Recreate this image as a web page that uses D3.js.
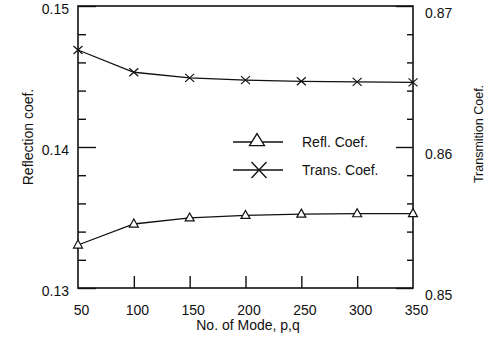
<!DOCTYPE html>
<html>
<head>
<meta charset="utf-8">
<script src="https://cdn.jsdelivr.net/npm/d3@7"></script>
<style>
  html, body { margin: 0; padding: 0; background: #fff; }
  svg { display: block; font-family: "Liberation Sans", Arial, Helvetica, sans-serif; }
</style>
</head>
<body>
<svg id="chart" width="489" height="342"></svg>
<script>
// Number of modes (p,q) used in the expansion
const modes = [50, 100, 150, 200, 250, 300, 350];
// Reflection coefficient (left axis)
const reflCoef = [0.13305, 0.13454, 0.13497, 0.13515, 0.13524, 0.13527, 0.13528];
// Transmission coefficient (right axis)
const transCoef = [0.86688, 0.86530, 0.86490, 0.86474, 0.86466, 0.86462, 0.86458];

const xTicks = [50, 100, 150, 200, 250, 300, 350];
const leftMajor = [0.13, 0.14, 0.15];
const rightMajor = [0.85, 0.86, 0.87];
const leftMinor = d3.range(0, 11).map(i => +(0.13 + i * 0.002).toFixed(3));
const rightMinor = d3.range(0, 11).map(i => +(0.85 + i * 0.002).toFixed(3));

const legendItems = ["Refl. Coef.", "Trans. Coef."];
const xTitle = "No. of Mode, p,q";
const yLeftTitle = "Reflection coef.";
const yRightTitle = "Transmition Coef.";

const svg = d3.select("#chart");
const L = 78, R = 413, T = 6, B = 288;

const x = d3.scaleLinear().domain([50, 350]).range([L, R]);
const yL = d3.scaleLinear().domain([0.13, 0.15]).range([B, T]);
const yR = d3.scaleLinear().domain([0.85, 0.87]).range([B, T]);

const ink = "#111";
const isMajor = (list, d) => list.some(m => Math.abs(m - d) < 1e-9);

// frame
svg.append("rect")
  .attr("x", L).attr("y", T).attr("width", R - L).attr("height", B - T)
  .attr("fill", "none").attr("stroke", ink).attr("stroke-width", 1.6);

// left axis: inward ticks, longer at the labelled values
const gl = svg.append("g").attr("transform", `translate(${L},0)`)
  .call(d3.axisLeft(yL).tickValues(leftMinor).tickSize(-8).tickPadding(9)
    .tickFormat(d => isMajor(leftMajor, d) ? d3.format(".2f")(d) : ""));
gl.select(".domain").remove();
gl.selectAll(".tick line")
  .attr("stroke", ink).attr("stroke-width", 1.4)
  .attr("x2", d => isMajor(leftMajor, d) ? 18 : 8);
gl.selectAll(".tick text").attr("fill", ink).attr("font-size", 14).attr("font-family", null).attr("dy", "0.5em");

// right axis
const gr = svg.append("g").attr("transform", `translate(${R},0)`)
  .call(d3.axisRight(yR).tickValues(rightMinor).tickSize(-6).tickPadding(12)
    .tickFormat(d => isMajor(rightMajor, d) ? d3.format(".2f")(d) : ""));
gr.select(".domain").remove();
gr.selectAll(".tick line")
  .attr("stroke", ink).attr("stroke-width", 1.4)
  .attr("x2", d => isMajor(rightMajor, d) ? -17 : -6);
gr.selectAll(".tick text").attr("fill", ink).attr("font-size", 14).attr("font-family", null).attr("dy", "0.79em");

// bottom axis
const gb = svg.append("g").attr("transform", `translate(0,${B})`)
  .call(d3.axisBottom(x).tickValues(xTicks).tickSize(-12).tickPadding(17).tickFormat(d3.format("d")));
gb.select(".domain").remove();
gb.selectAll(".tick line").attr("stroke", ink).attr("stroke-width", 1.4)
  .attr("display", d => (d === 50 || d === 350) ? "none" : null);
gb.selectAll(".tick text").attr("fill", ink).attr("font-size", 14).attr("font-family", null).attr("dx", 3);

// axis titles
svg.append("text").attr("x", 248).attr("y", 330).attr("text-anchor", "middle")
  .attr("font-size", 14).attr("fill", ink).text(xTitle);
svg.append("text").attr("transform", "translate(33,137) rotate(-90)").attr("text-anchor", "middle")
  .attr("font-size", 14).attr("fill", ink).text(yLeftTitle);
svg.append("text").attr("transform", "translate(483,134) rotate(-90)").attr("text-anchor", "middle")
  .attr("font-size", 12.5).attr("fill", ink).text(yRightTitle);

// markers: open triangle (w x h, centred on its centroid) and cross
const triPath = (w, h) => `M0,${-h * 0.62}L${w / 2},${h * 0.38}L${-w / 2},${h * 0.38}Z`;
const crossPath = (hw, hh) => `M${-hw},${-hh}L${hw},${hh}M${-hw},${hh}L${hw},${-hh}`;

const line = d3.line();

// reflection series
svg.append("path")
  .attr("d", line(modes.map((m, i) => [x(m), yL(reflCoef[i])])))
  .attr("fill", "none").attr("stroke", ink).attr("stroke-width", 1.3);
svg.selectAll(".tri").data(modes).join("path").attr("class", "tri")
  .attr("transform", (m, i) => `translate(${x(m)},${yL(reflCoef[i])})`)
  .attr("d", triPath(9, 8)).attr("fill", "#fff").attr("stroke", ink).attr("stroke-width", 1.2);

// transmission series
svg.append("path")
  .attr("d", line(modes.map((m, i) => [x(m), yR(transCoef[i])])))
  .attr("fill", "none").attr("stroke", ink).attr("stroke-width", 1.3);
svg.selectAll(".crs").data(modes).join("path").attr("class", "crs")
  .attr("transform", (m, i) => `translate(${x(m)},${yR(transCoef[i])})`)
  .attr("d", crossPath(4.5, 4)).attr("fill", "none").attr("stroke", ink).attr("stroke-width", 1.2);

// legend
const legY = [142, 170];
const lg = svg.append("g");
legendItems.forEach((lab, i) => {
  lg.append("line").attr("x1", 233).attr("x2", 283).attr("y1", legY[i]).attr("y2", legY[i])
    .attr("stroke", ink).attr("stroke-width", 1.3);
  if (i === 0) {
    lg.append("path").attr("transform", `translate(257,${legY[i] - 1})`)
      .attr("d", triPath(15, 12)).attr("fill", "#fff").attr("stroke", ink).attr("stroke-width", 1.3);
  } else {
    lg.append("path").attr("transform", `translate(259,${legY[i]})`)
      .attr("d", crossPath(7.5, 8)).attr("fill", "none").attr("stroke", ink).attr("stroke-width", 1.3);
  }
  lg.append("text").attr("x", 302).attr("y", legY[i] + 5).attr("font-size", 14)
    .attr("fill", ink).text(lab);
});
</script>
</body>
</html>
